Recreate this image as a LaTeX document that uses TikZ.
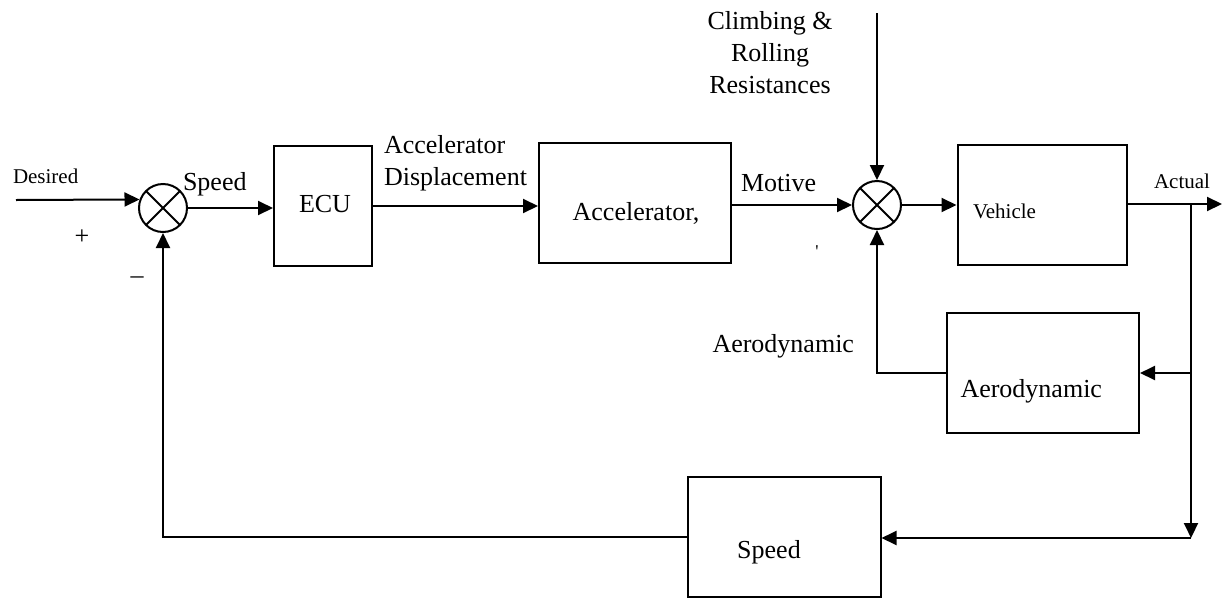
\documentclass[tikz,border=0pt]{standalone}
\usepackage{fontspec}
\setmainfont{Liberation Serif}
\usepackage{tikz}
\usetikzlibrary{arrows.meta}

\begin{document}
\begin{tikzpicture}[x=1pt,y=-1pt,line width=2pt,
  >={Triangle[length=15pt,width=14pt]},
  block/.style={draw,minimum height=120pt,inner sep=0pt},
  sumjunction/.style={circle,draw,minimum size=48pt,inner sep=0pt,
    path picture={\draw[line width=2pt] (path picture bounding box.north west) -- (path picture bounding box.south east)
      (path picture bounding box.south west) -- (path picture bounding box.north east);}},
  bigtext/.style={font=\fontsize{26}{32}\selectfont},
  smalltext/.style={font=\fontsize{21}{25}\selectfont}]
\useasboundingbox (0,0) rectangle (1222,600);
% blocks
\node[sumjunction] (sum1) at (163,208) {};
\node[block,minimum width=98pt] (ecu) at (323,206) {};
\node[block,minimum width=192pt] (acc) at (635,203) {};
\node[sumjunction] (sum2) at (877,205) {};
\node[block,minimum width=169pt] (veh) at (1042,205) {};
\node[block,minimum width=192pt] (aero) at (1043,373) {};
\node[block,minimum width=193pt] (spd) at (784,537) {};
% texts
\node[smalltext,anchor=base west,inner sep=0pt] (desired) at (12,183) {Desired};
\node[bigtext,inner sep=0pt] (plus) at (82,237) {+};
\node[bigtext,inner sep=0pt] (minus) at (137,280) {\textendash};
\node[bigtext,anchor=base west,inner sep=0pt] (err) at (182,190) {Speed};
\node[bigtext,anchor=base,inner sep=0pt] (ecutext) at (325,212) {ECU};
\node[bigtext,anchor=west,align=left,inner sep=0pt] (accdisp) at (383,163) {Accelerator\\Displacement};
\node[bigtext,anchor=base,inner sep=0pt] (acctext) at (636,220) {Accelerator,};
\node[bigtext,anchor=base west,inner sep=0pt] (motive) at (740,191) {Motive};
\node[font=\fontsize{18}{20}\selectfont,inner sep=0pt] (tick) at (817,252) {\textquotesingle};
\node[bigtext,align=center,inner sep=0pt,anchor=north] (climb) at (770,10) {Climbing \&\\Rolling\\Resistances};
\node[smalltext,anchor=base west,inner sep=0pt] (vehtext) at (972,218) {Vehicle};
\node[smalltext,anchor=base west,inner sep=0pt] (actual) at (1153,188) {Actual};
\node[bigtext,anchor=base east,inner sep=0pt] (aerolabel) at (855,352) {Aerodynamic};
\node[bigtext,anchor=base east,inner sep=0pt] (aerotext) at (1103,397) {Aerodynamic};
\node[bigtext,anchor=base,inner sep=0pt] (spdtext) at (769,558) {Speed};
% points
\coordinate (in) at (16,200);
\coordinate (dist) at (877,13);
\coordinate (out) at (1222,204);
\coordinate (brA) at (1191,204);
\coordinate (brB) at (1191,538);
% connectors
\draw[->] (in) -- (sum1.160);
\draw[->] (sum1.east) -- (sum1.east -| ecu.west);
\draw[->] (ecu.east) -- (ecu.east -| acc.west);
\draw[->] (acc.east |- sum2) -- (sum2.west);
\draw[->] (dist) -- (sum2.north);
\draw[->] (sum2.east) -- (veh.west);
\draw[->] (veh.east |- out) -- (out);
\draw[->] (brA) -- (brB);
\draw[->] (brA |- aero) -- (aero.east);
\draw[->] (aero.west) -| (sum2.south);
\draw[->] (brB) -- (brB -| spd.east);
\draw[->] (spd.west) -| (sum1.south);
\end{tikzpicture}
\end{document}
